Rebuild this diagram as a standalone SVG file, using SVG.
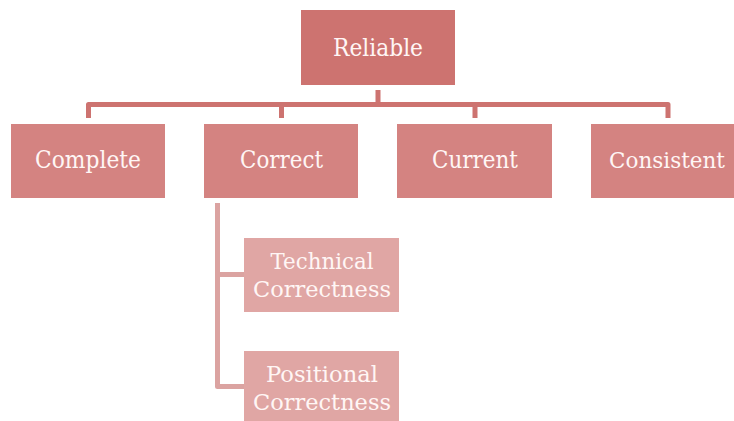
<svg xmlns="http://www.w3.org/2000/svg" width="734" height="421" viewBox="0 0 734 421">
<style>
.top{fill:#cd7370}
.mid{fill:#d48381}
.sub{fill:#e0a6a4}
.t{font-family:"DejaVu Serif","Liberation Serif",serif;font-size:24px;fill:#fff6f5;text-anchor:middle}
.s{font-size:21.5px}
.c1{fill:none;stroke:#cd7370;stroke-width:5;stroke-linejoin:round}
.c2{fill:none;stroke:#dba3a1;stroke-width:5;stroke-linejoin:round}
</style>
<rect width="734" height="421" fill="#fff"/>
<g id="connectors">
<path class="c1" d="M378 90 V104.5 M88.5 118 V104.5 H668 V118 M281.5 104.5 V118 M475 104.5 V118"/>
<path class="c2" d="M217.5 203 V386.5 H244 M217.5 274.5 H244"/>
</g>
<g id="reliable"><rect class="top" x="301" y="10" width="154" height="75"/><text class="t" x="378" y="56" textLength="90" lengthAdjust="spacingAndGlyphs">Reliable</text></g>
<g id="complete"><rect class="mid" x="11" y="124" width="154" height="74"/><text class="t" x="88" y="168" textLength="106" lengthAdjust="spacingAndGlyphs">Complete</text></g>
<g id="correct"><rect class="mid" x="204" y="124" width="154" height="74"/><text class="t" x="281.5" y="168" textLength="83" lengthAdjust="spacingAndGlyphs">Correct</text></g>
<g id="current"><rect class="mid" x="397" y="124" width="155" height="74"/><text class="t" x="475" y="168" textLength="86" lengthAdjust="spacingAndGlyphs">Current</text></g>
<g id="consistent"><rect class="mid" x="591" y="124" width="143" height="74"/><text class="t" x="667" y="168" font-size="22.5" textLength="116" lengthAdjust="spacingAndGlyphs" style="font-size:22.5px">Consistent</text></g>
<g id="technical"><rect class="sub" x="244" y="238" width="155" height="74"/><text class="t s" x="322" y="269" textLength="103" lengthAdjust="spacingAndGlyphs">Technical</text><text class="t s" x="322" y="297" textLength="138" lengthAdjust="spacingAndGlyphs">Correctness</text></g>
<g id="positional"><rect class="sub" x="244" y="351" width="155" height="70"/><text class="t s" x="322" y="382" textLength="112" lengthAdjust="spacingAndGlyphs">Positional</text><text class="t s" x="322" y="410" textLength="138" lengthAdjust="spacingAndGlyphs">Correctness</text></g>
</svg>
